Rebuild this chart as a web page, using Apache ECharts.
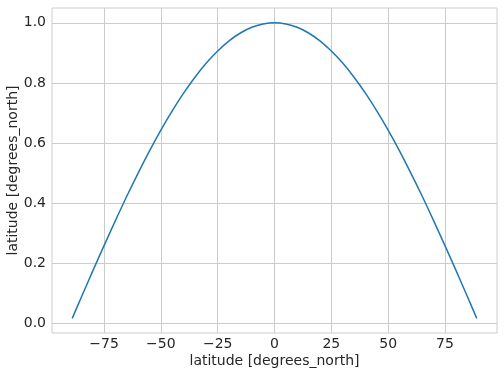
<!DOCTYPE html>
<html><head><meta charset="utf-8">
<script src="https://cdn.jsdelivr.net/npm/echarts@6/dist/echarts.min.js"></script>
<style>html,body{margin:0;padding:0;background:#fff}#c{width:504px;height:376px}</style>
</head><body><div id="c"></div>
<script>
const latitudes = [-89,-85,-80,-75,-70,-65,-60,-55,-50,-45,-40,-35,-30,-25,-20,-15,-10,-5,0,5,10,15,20,25,30,35,40,45,50,55,60,65,70,75,80,85,89];
const values = [0.017,0.087,0.174,0.259,0.342,0.423,0.500,0.574,0.643,0.707,0.766,0.819,0.866,0.906,0.940,0.966,0.985,0.996,1.000,0.996,0.985,0.966,0.940,0.906,0.866,0.819,0.766,0.707,0.643,0.574,0.500,0.423,0.342,0.259,0.174,0.087,0.017];
const xTicks = [-75,-50,-25,0,25,50,75];
const yTicks = [0.0,0.2,0.4,0.6,0.8,1.0];
const xName = 'latitude [degrees_north]';
const yName = 'latitude [degrees_north]';

const txt = '#262626', gridC = '#cccccc', font = 'DejaVu Sans';
const chart = echarts.init(document.getElementById('c'), null, {renderer:'canvas'});
chart.setOption({
  backgroundColor:'#fff',
  animation:false,
  grid:{left:52,right:7,top:8,bottom:43,containLabel:false,outerBoundsMode:'none',show:true,borderColor:gridC,borderWidth:1},
  xAxis:{type:'value',min:-97.9,max:97.9,
    name:xName,nameLocation:'middle',nameGap:21,nameMoveOverlap:false,
    nameTextStyle:{color:txt,fontSize:14,fontFamily:font},
    axisLine:{show:false},
    axisTick:{show:false,customValues:xTicks},
    axisLabel:{customValues:xTicks,color:txt,fontSize:14,fontFamily:font,margin:4,
      formatter:v=>String(v).replace('-','\u2212')},
    splitLine:{show:true,lineStyle:{color:gridC,width:1}}},
  yAxis:{type:'value',min:-0.0317,max:1.0491,
    name:yName,nameLocation:'middle',nameGap:32,nameMoveOverlap:false,
    nameTextStyle:{color:txt,fontSize:14,fontFamily:font},
    axisLine:{show:false},
    axisTick:{show:false,customValues:yTicks},
    axisLabel:{customValues:yTicks,color:txt,fontSize:14,fontFamily:font,margin:6,
      formatter:v=>v.toFixed(1)},
    splitLine:{show:true,lineStyle:{color:gridC,width:1}}},
  series:[{type:'line',data:latitudes.map((x,i)=>[x,values[i]]),
    smooth:0.3,showSymbol:false,lineStyle:{color:'#1f77b4',width:1.5}}]
});
</script></body></html>
